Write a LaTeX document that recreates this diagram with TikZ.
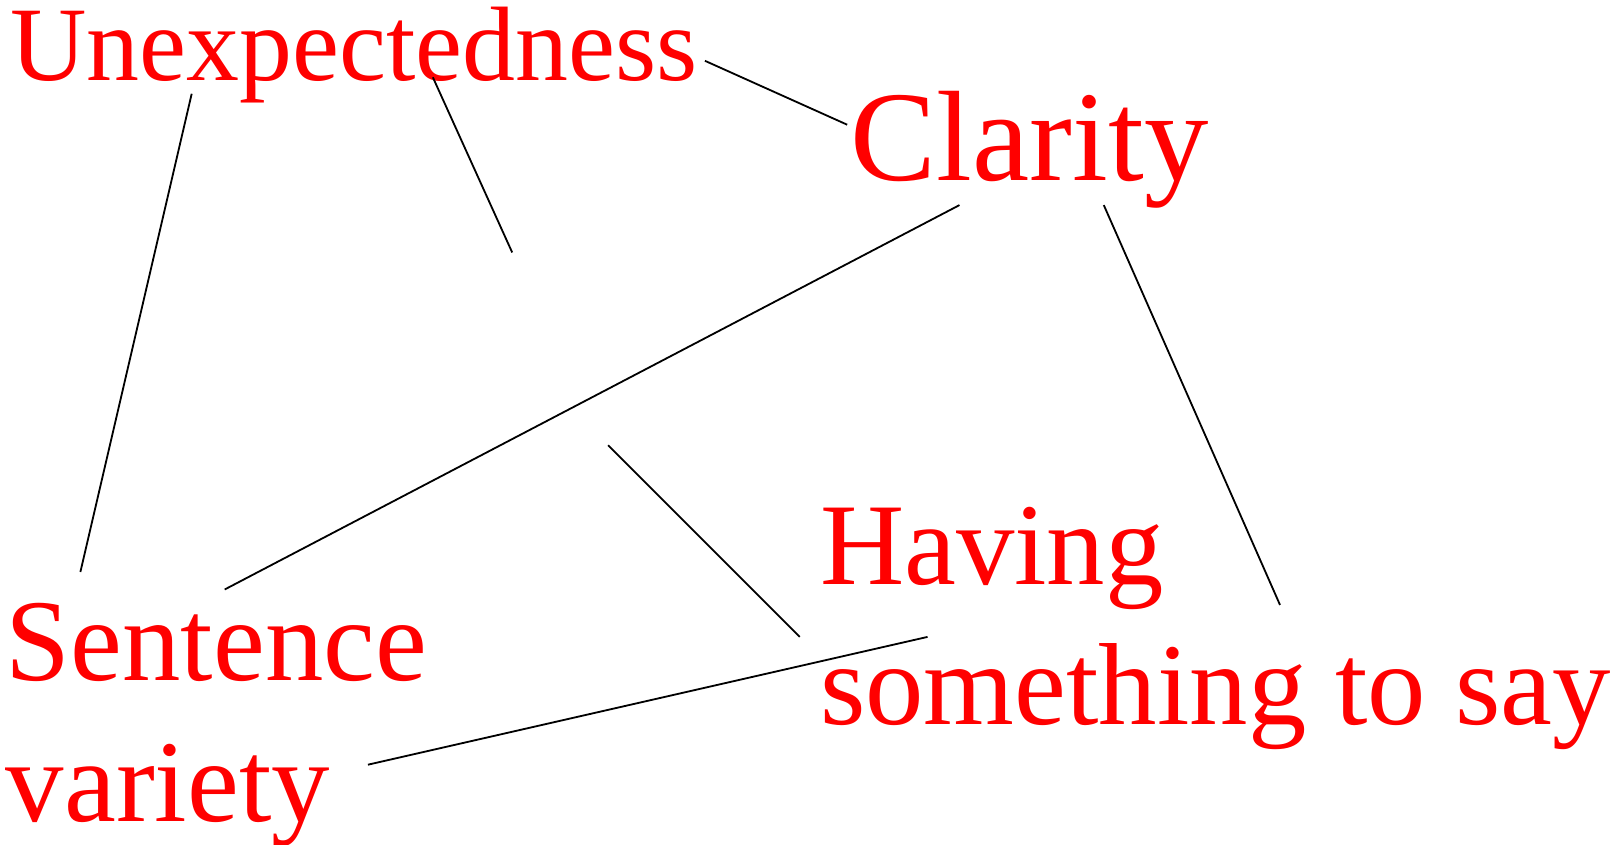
\documentclass[tikz,border=0pt]{standalone}
\usepackage{fontspec}
\setmainfont{Liberation Serif}
\usetikzlibrary{positioning}

\begin{document}
\begin{tikzpicture}[
    % one unit is one pixel of the reference, y runs downwards
    x=0.01cm, y=-0.01cm,
    idea/.style={
        text=red, inner sep=0pt, anchor=base west, align=left
    },
    link/.style={draw=black, line width=0.5pt}
]
  \useasboundingbox (0,0) rectangle (1568,819);

  % The four ideas (base = baseline of the last line)
  \node[idea, font=\fontsize{29.2}{35}\selectfont] (unexp) at (9,78) {Unexpectedness};
  \node[idea, font=\fontsize{35.5}{42}\selectfont] (clarity) at (825,175) {Clarity};
  \node[idea, font=\fontsize{32.2}{38.7}\selectfont] (having) at (795,703) {Having\\something to say};
  \node[idea, font=\fontsize{32.2}{39}\selectfont] (sentence) at (5,797) {Sentence\\variety};

  % Line ends next to the words
  \coordinate (unexp-c) at (684,59);
  \coordinate (clarity-u) at (822,121);
  \coordinate (unexp-s) at (186,91);
  \coordinate (sentence-u) at (78,555);
  \coordinate (unexp-m) at (420,75);
  \coordinate (mid-a) at (497,245);
  \coordinate (mid-b) at (590,432);
  \coordinate (having-m) at (776,618);
  \coordinate (clarity-s) at (931,199);
  \coordinate (sentence-c) at (218,572);
  \coordinate (clarity-h) at (1071,199);
  \coordinate (having-c) at (1242,587);
  \coordinate (sentence-h) at (357,742);
  \coordinate (having-s) at (900,618);

  % Connecting lines
  \draw[link] (unexp-c) -- (clarity-u);
  \draw[link] (unexp-s) -- (sentence-u);
  \draw[link] (unexp-m) -- (mid-a);
  \draw[link] (mid-b) -- (having-m);
  \draw[link] (clarity-s) -- (sentence-c);
  \draw[link] (clarity-h) -- (having-c);
  \draw[link] (sentence-h) -- (having-s);

\end{tikzpicture}
\end{document}
